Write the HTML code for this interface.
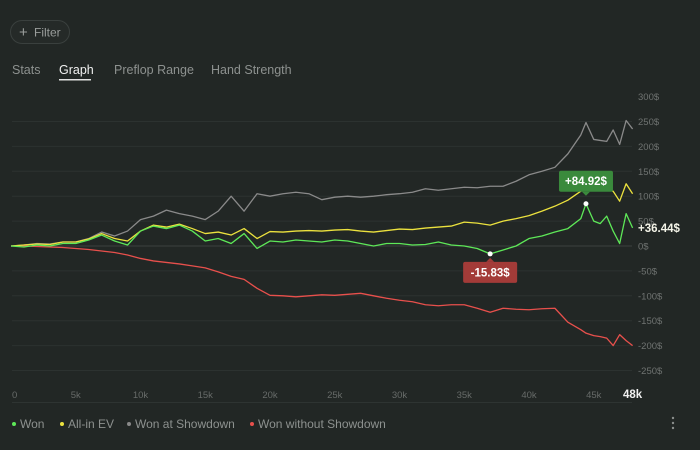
<!DOCTYPE html>
<html><head><meta charset="utf-8"><style>
body{margin:0;background:#222725;width:700px;height:450px;overflow:hidden;font-family:"Liberation Sans",sans-serif}
svg{position:absolute;left:0;top:0}
</style></head><body>
<svg id="c" width="700" height="450">
<g>
<rect x="10.5" y="20.5" width="59" height="23" rx="11.5" fill="#252a28" stroke="#3a403e"/>
<text x="19" y="37" fill="#9a9e9c" font-size="15">+</text>
<text x="34" y="36.5" fill="#9a9e9c" font-size="12">Filter</text>
</g>
<text x="12" y="74" fill="#8d918f" font-size="12.5">Stats</text>
<text x="59" y="74" fill="#f0f0f0" font-size="12.5">Graph</text>
<rect x="59" y="79" width="32" height="1.5" fill="#e0e0e0"/>
<text x="114" y="74" fill="#8d918f" font-size="12.5">Preflop Range</text>
<text x="211" y="74" fill="#8d918f" font-size="12.5">Hand Strength</text>
<g id="grid"></g><g id="series"></g><g id="ann"></g>
<line x1="12" y1="402.5" x2="632" y2="402.5" stroke="#2e3432"/>
<g id="legend"></g>
<g fill="#8a8e8c"><circle cx="673" cy="418" r="1.2"/><circle cx="673" cy="423" r="1.2"/><circle cx="673" cy="428" r="1.2"/></g>
</svg>
<script>
const hands=[0,1,2,3,4,5,6,7,8,9,10,11,12,13,14,15,16,17,18,19,20,21,22,23,24,25,26,27,28,29,30,31,32,33,34,35,36,37,38,39,40,41,42,43,44,44.4,45,45.5,46,46.5,47,47.5,48];
const won=[0,-2,2,0,5,5,12,22,10,2,30,40,35,42,30,10,15,5,25,-5,10,8,12,10,8,12,10,5,0,5,5,2,3,8,2,0,-5,-15.83,-8,0,15,20,28,35,55,84.92,50,45,60,30,5,65,36.44];
const allinEv=[0,2,4,3,8,8,14,25,15,10,30,42,38,44,35,25,28,22,35,15,29,28,30,31,30,32,33,30,28,31,34,33,36,38,40,48,46,42,50,55,61,70,80,92,110,115,120,118,115,110,90,125,105];
const showdown=[0,2,5,4,8,8,15,28,20,30,53,60,72,65,60,53,70,100,70,105,100,105,108,105,93,98,100,98,100,103,105,108,115,112,115,118,117,120,120,130,143,150,158,185,223,248,214,212,210,233,204,252,235];
const noShowdown=[0,0,-1,-2,-3,-5,-7,-10,-13,-18,-25,-30,-33,-36,-40,-44,-52,-61,-67,-85,-99,-100,-102,-100,-98,-99,-97,-95,-100,-105,-109,-112,-118,-120,-118,-118,-125,-133,-125,-127,-128,-126,-125,-153,-168,-175,-180,-182,-185,-200,-178,-190,-200];
const yTicks=[300,250,200,150,100,50,0,-50,-100,-150,-200,-250];
const xTicks=[0,5,10,15,20,25,30,35,40,45];
const seriesNames=["Won","All-in EV","Won at Showdown","Won without Showdown"];
const NS="http://www.w3.org/2000/svg";
const X=k=>11+k*12.95, Y=v=>246-v*0.498;
function mk(t,a,p){const e=document.createElementNS(NS,t);for(const k in a)e.setAttribute(k,a[k]);p.appendChild(e);return e;}
const grid=document.getElementById('grid');
yTicks.forEach(v=>{
 if(v<300){const l=mk('line',{x1:12,x2:632,y1:Y(v),y2:Y(v),stroke:v===0?'#3c4240':'#2c3230'},grid);
 
 }
 const t=mk('text',{x:638,y:Y(v)+3.5,fill:'#6f7371','font-size':9.5},grid);t.textContent=v+'$';
 
 
});
xTicks.forEach(k=>{const t=mk('text',{x:k===0?12:X(k),y:398,fill:'#676b69','font-size':9.5,'text-anchor':k===0?'start':'middle'},grid);t.textContent=k===0?'0':k+'k';
 
 });
const last=mk('text',{x:X(48),y:398,fill:'#f0f0f0','font-size':11.5,'font-weight':'bold','text-anchor':'middle'},grid);last.textContent='48k';


const sg=document.getElementById('series');
const defs=[[noShowdown,'#e8504c','won-without-showdown-line'],[showdown,'#8a8a8a','won-at-showdown-line'],[allinEv,'#ece23e','all-in-ev-line'],[won,'#5ee858','won-line']];
defs.forEach(([d,c,n])=>{const p=mk('polyline',{points:d.map((v,i)=>X(hands[i])+','+Y(v)).join(' '),fill:'none',stroke:c,'stroke-width':1.3,'stroke-linejoin':'round'},sg);
 
 });
const an=document.getElementById('ann');
const maxI=won.indexOf(Math.max(...won)), minI=won.indexOf(Math.min(...won));
function tip(i,col,above,name){const x=X(hands[i]),y=Y(won[i]);const txt=(won[i]>0?'+':'')+won[i].toFixed(2)+'$';
 const g=mk('g',{},an);
 
 
 const w=54,h=21,by=above?y-33:y+8;
 mk('rect',{x:x-w/2,y:by,width:w,height:h,rx:2,fill:col},g);
 mk('polygon',{points:above?`${x-4},${by+h} ${x+4},${by+h} ${x},${by+h+4}`:`${x-4},${by} ${x+4},${by} ${x},${by-4}`,fill:col},g);
 const t=mk('text',{x:x,y:by+14.5,fill:'#fff','font-size':11.5,'font-weight':'bold','text-anchor':'middle'},g);t.textContent=txt;
 mk('circle',{cx:x,cy:y,r:2.5,fill:'#fff'},g);}
tip(maxI,'#3a8a3c',true,'max-tooltip');tip(minI,'#a33b38',false,'min-tooltip');
const fl=mk('text',{x:638,y:Y(won[won.length-1])+4,fill:'#f4f4e8','font-size':11.5,'font-weight':'bold'},an);fl.textContent='+'+won[won.length-1].toFixed(2)+'$';


const lg=document.getElementById('legend');const lc=['#5ee858','#ece23e','#8a8a8a','#e8504c'];const lx=[12,60,127,250];
seriesNames.forEach((s,i)=>{const g=mk('g',{},lg);
 
 
 mk('circle',{cx:lx[i]+2,cy:424,r:2,fill:lc[i]},g);
 const t=mk('text',{x:lx[i]+8,y:428,fill:'#8d918f','font-size':12},g);t.textContent=s;});
</script>
</body></html>
